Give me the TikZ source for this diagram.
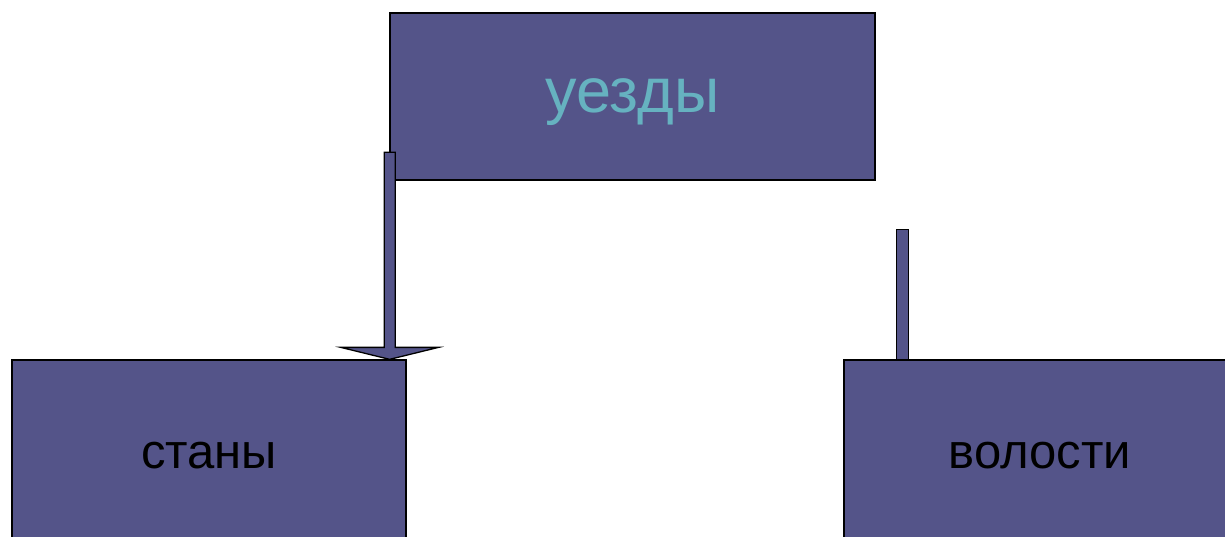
\documentclass[tikz,border=0pt]{standalone}
\usepackage{fontspec}
\setmainfont{Liberation Sans}
\usetikzlibrary{calc}
\definecolor{boxfill}{RGB}{84,84,137}
\definecolor{tealtext}{RGB}{102,178,192}

\begin{document}
\begin{tikzpicture}[x=1pt, y=-1pt,
    unit/.style={draw=black, line width=1.3pt, fill=boxfill, inner sep=0pt,
                 font=\fontsize{49}{55}\selectfont},
    bar/.style={draw=black, line width=1.3pt, fill=boxfill, line join=miter}
]
    \useasboundingbox (0,0) rectangle (1225,537);
    \clip (0,0) rectangle (1225,537);

    \node[unit, minimum width=485pt, minimum height=167pt] (uezdy) at (632.5,96.5) {};
    \node[text=tealtext, font=\fontsize{63}{70}\selectfont, inner sep=0pt] (uezdylabel) at ($(uezdy.center)+(0,6)$) {уезды};
    \node[unit, minimum width=394pt, minimum height=192pt] (stany) at (209,456) {станы};
    \node[unit, minimum width=392pt, minimum height=192pt] (volosti) at (1040,456) {волости};

    % block arrow down to the left box
    \coordinate (tip) at ([xshift=-17pt]stany.north east);
    \draw[bar] ($(tip)+(-5.5,-207)$) -- ($(tip)+(5.5,-207)$) -- ($(tip)+(5.5,-12)$)
        -- ($(tip)+(49,-12)$) -- (tip) -- ($(tip)+(-49,-12)$)
        -- ($(tip)+(-5.5,-12)$) -- cycle;

    % bar above the right box
    \coordinate (vtop) at ([xshift=59pt]volosti.north west);
    \draw[bar] ($(vtop)+(-6,-130)$) rectangle ($(vtop)+(6,0)$);
\end{tikzpicture}
\end{document}
